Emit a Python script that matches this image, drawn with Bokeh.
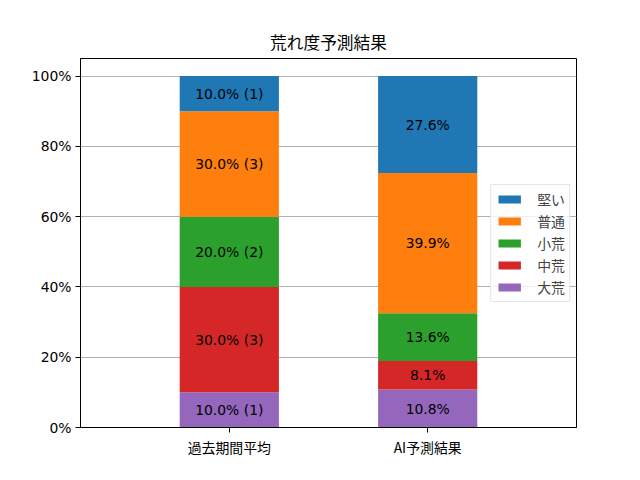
from bokeh.plotting import figure
from bokeh.models import (FactorRange, Range1d, NumeralTickFormatter, FixedTicker,
                          Legend, LegendItem, ColumnDataSource)
from bokeh.core.properties import value
from bokeh.embed import file_html
from bokeh.resources import INLINE

title = "荒れ度予測結果"
groups = ["過去期間平均", "AI予測結果"]
levels = ["大荒", "中荒", "小荒", "普通", "堅い"]  # bottom to top
colors = ["#9467bd", "#d62728", "#2ca02c", "#ff7f0e", "#1f77b4"]
past_pct = [10.0, 30.0, 20.0, 30.0, 10.0]
past_counts = [1, 3, 2, 3, 1]
ai_pct = [10.8, 8.1, 13.6, 39.9, 27.6]
y_ticks = [0, 0.2, 0.4, 0.6, 0.8, 1.0]

LATIN = "DejaVu Sans"
CJK = "Noto Sans CJK JP"

data = {"group": groups}
for i, lv in enumerate(levels):
    data[lv] = [past_pct[i] / 100, ai_pct[i] / 100]
src = ColumnDataSource(data)

p = figure(x_range=FactorRange(*groups, range_padding=0.25),
           y_range=Range1d(0, 1.05),
           width=624, height=464, output_backend="svg", toolbar_location=None,
           min_border_left=80, min_border_right=48, min_border_top=58,
           min_border_bottom=37)

renderers = p.vbar_stack(levels, x="group", width=0.5, color=colors,
                         line_color=None, source=src)

# labels
lx, ly, lt = [], [], []
for gi, g in enumerate(groups):
    cum = 0.0
    for i in range(len(levels)):
        v = (past_pct if gi == 0 else ai_pct)[i] / 100
        lx.append(g)
        ly.append(cum + v / 2)
        if gi == 0:
            lt.append(f"{past_pct[i]:.1f}% ({past_counts[i]})")
        else:
            lt.append(f"{ai_pct[i]:.1f}%")
        cum += v
p.text(x=lx, y=ly, text=lt, text_align="center", text_baseline="middle",
       text_font=value(LATIN), text_font_size="13.9px", text_color="black")

items = [LegendItem(label=levels[i], renderers=[renderers[i]]) for i in reversed(range(len(levels)))]
legend = Legend(items=items, location="center_right", margin=6,
                label_text_font=CJK, label_text_font_size="13.9px",
                glyph_width=28, glyph_height=10, label_height=19, spacing=2,
                padding=4, border_line_color="#cccccc", border_line_width=1,
                background_fill_alpha=0.8, label_standoff=14)
p.add_layout(legend)

p.title.text = title
p.title.align = "center"
p.title.text_font = CJK
p.title.text_font_size = "16.7px"
p.title.text_font_style = "normal"
p.title.text_color = "black"

p.yaxis.ticker = FixedTicker(ticks=y_ticks)
p.yaxis.formatter = NumeralTickFormatter(format="0%")
p.yaxis.major_label_text_font = LATIN
p.xaxis.major_label_text_font = CJK
for ax in (p.xaxis, p.yaxis):
    ax.major_label_text_font_size = "13.9px"
    ax.major_label_text_color = "black"
    ax.axis_line_color = "black"
    ax.major_tick_line_color = "black"
    ax.major_tick_in = 0
    ax.major_tick_out = 5
    ax.minor_tick_line_color = None
    ax.major_label_standoff = 4

p.xgrid.grid_line_color = None
p.ygrid.grid_line_color = "#b0b0b0"
p.ygrid.grid_line_width = 1
p.outline_line_color = "black"
p.outline_line_alpha = 1
p.outline_line_width = 1

open("out.html", "w").write(file_html(p, INLINE))
